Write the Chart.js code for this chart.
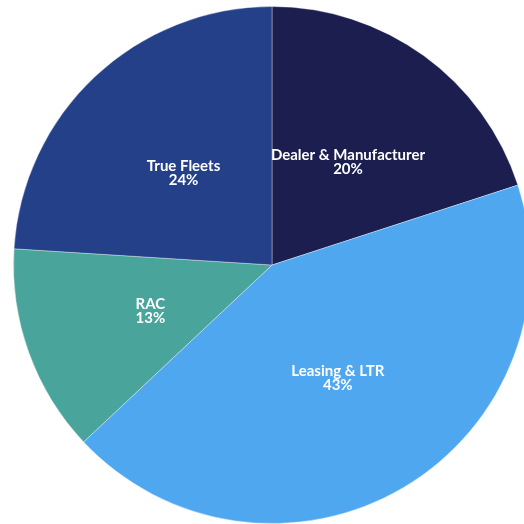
<!DOCTYPE html>
<html>
<head>
<meta charset="utf-8">
<script src="https://cdn.jsdelivr.net/npm/chart.js@4/dist/chart.umd.min.js"></script>
<style>
  html, body { margin: 0; padding: 0; background: #ffffff; overflow: hidden; width: 524px; height: 524px; }
  #wrap { position: absolute; left: 0; top: 0; width: 544px; height: 530px; }
</style>
</head>
<body>
<div id="wrap"><canvas id="c" width="544" height="530"></canvas></div>
<script>
const categories = ["Dealer & Manufacturer", "Leasing & LTR", "RAC", "True Fleets"];
const shares = [20, 43, 13, 24];
const sliceColors = ["#1b1e4f", "#4fa8ef", "#49a49b", "#234089"];

const labelPlugin = {
  id: 'sliceLabels',
  afterDatasetsDraw(chart) {
    const ctx = chart.ctx;
    const meta = chart.getDatasetMeta(0);
    ctx.save();
    ctx.fillStyle = '#ffffff';
    ctx.textAlign = 'center';
    ctx.textBaseline = 'middle';
    ctx.font = 'bold 15px Lato, "Open Sans", sans-serif';
    meta.data.forEach((arc, i) => {
      const p = arc.tooltipPosition();
      ctx.fillText(categories[i], p.x, p.y - 5);
      ctx.fillText(shares[i] + '%', p.x, p.y + 9);
    });
    ctx.restore();
  }
};

new Chart(document.getElementById('c'), {
  type: 'pie',
  data: {
    labels: categories,
    datasets: [{
      data: shares,
      backgroundColor: sliceColors,
      borderColor: 'rgba(255,255,255,0.35)',
      borderWidth: 1
    }]
  },
  options: {
    responsive: false,
    animation: false,
    layout: { padding: { left: 13, right: 13, top: 6, bottom: 6 } },
    plugins: {
      legend: { display: false },
      tooltip: { enabled: false }
    }
  },
  plugins: [labelPlugin]
});
</script>
</body>
</html>
